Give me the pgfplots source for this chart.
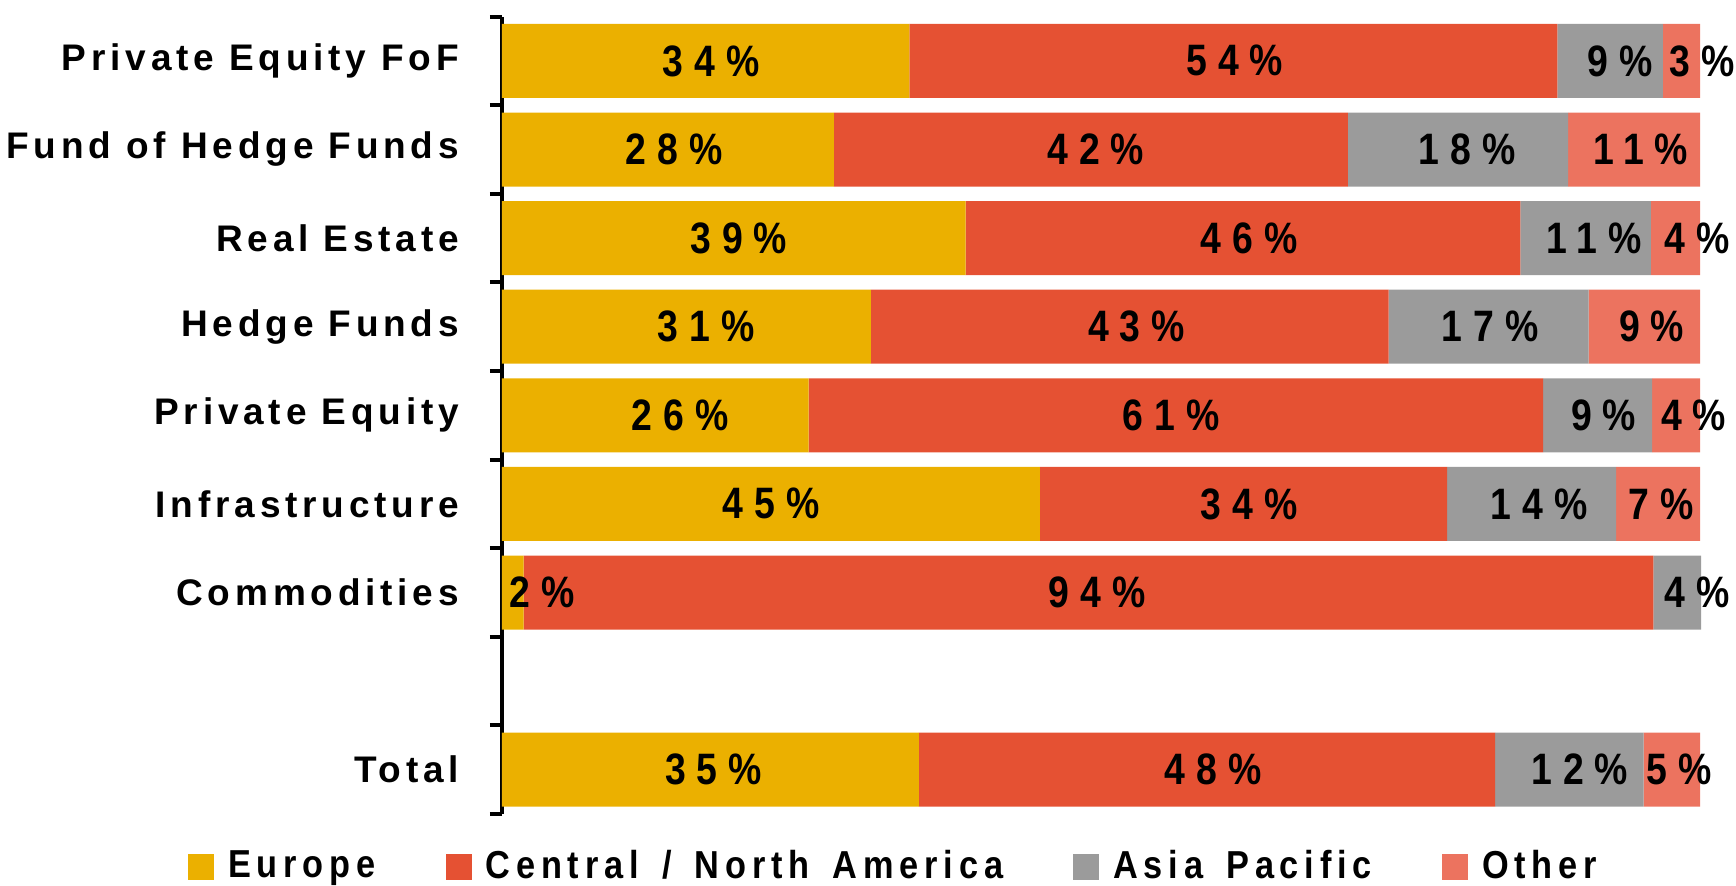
\documentclass[border=0pt]{standalone}
\usepackage{fontspec}
\usepackage{pgfplots}
\pgfplotsset{compat=1.18}
\setmainfont{Liberation Sans}
\newfontfamily\labfont{Liberation Sans}[LetterSpace=13]
\newfontfamily\legfont{Liberation Sans}[LetterSpace=15,FakeStretch=0.88,WordSpace=1.5]
\newfontfamily\pctfont{Liberation Sans}[LetterSpace=25,FakeStretch=0.85]
\definecolor{cEU}{HTML}{EBB000}
\definecolor{cNA}{HTML}{E55133}
\definecolor{cAP}{HTML}{9B9B9B}
\definecolor{cOT}{HTML}{EC735F}
\pgfplotsset{
  sqleg/.style={legend image code/.code={\fill[##1] (0pt,-7pt) rectangle (13pt,6pt);}},
  common/.style={at={(251pt,35.5pt)}, anchor=south west,
    width=599pt, height=398.7pt, scale only axis,
    xmin=0, xmax=100, ymin=-0.5, ymax=8.5}
}
\begin{document}
\begin{tikzpicture}
\useasboundingbox (0,0) rectangle (868pt,442.5pt);
\begin{axis}[common,
  xbar stacked, bar width=37pt,
  sqleg,
  axis x line=none, axis y line=left,
  axis line style={-, line width=2pt, black},
  ytick={0,2,3,4,5,6,7,8},
  yticklabels={Total,Commodities,Infrastructure,Private Equity,Hedge Funds,Real Estate,Fund of Hedge Funds,Private Equity FoF},
  major tick length=0pt,
  minor ytick={-0.5,0.5,...,8.5},
  minor tick length=6pt,
  tick align=outside,
  minor tick style={line width=2pt, black},
  yticklabel style={font=\labfont\bfseries\fontsize{18.5}{20}\selectfont, xshift=-18pt},
  legend style={font=\legfont\bfseries\fontsize{19.5}{21}\selectfont, draw=none, fill=none,
    inner sep=0pt, outer sep=0pt, legend columns=4,
    /tikz/every odd column/.append style={column sep=5pt},
    /tikz/every even column/.append style={column sep=33pt},
    at={(-0.262,-0.0652)}, anchor=west},
  clip=false,
]
\addplot[fill=cEU, draw=none, sqleg] coordinates {(34.8,0) (1.8,2) (44.9,3) (25.6,4) (30.8,5) (38.7,6) (27.7,7) (34.0,8)};
\addplot[fill=cNA, draw=none, sqleg] coordinates {(48.1,0) (94.3,2) (34.0,3) (61.3,4) (43.2,5) (46.3,6) (42.9,7) (54.1,8)};
\addplot[fill=cAP, draw=none, sqleg] coordinates {(12.4,0) (4.0,2) (14.1,3) (9.1,4) (16.7,5) (10.9,6) (18.4,7) (8.8,8)};
\addplot[fill=cOT, draw=none, sqleg] coordinates {(4.7,0) (0,2) (7.0,3) (4.0,4) (9.3,5) (4.1,6) (11.0,7) (3.1,8)};
\legend{Europe, Central / North America, Asia Pacific, Other}
\end{axis}
\begin{axis}[common, hide axis, clip=false]
\addplot[draw=none, mark=none, point meta=explicit symbolic,
  nodes near coords={\pgfplotspointmeta\%},
  every node near coord/.append style={anchor=center, inner sep=0pt, xshift=2.75pt,
    font=\pctfont\bfseries\fontsize{22}{24}\selectfont}]
  table[meta=lab] {
x y lab
17.0 8 34
60.7 8 54
92.9 8 9
99.7 8 3
13.9 7 28
49.1 7 42
80.1 7 18
94.6 7 11
19.3 6 39
61.9 6 46
90.7 6 11
99.3 6 4
16.6 5 31
52.5 5 43
82.0 5 17
95.5 5 9
14.4 4 26
55.4 4 61
91.5 4 9
99.0 4 4
22.0 3 45
61.9 3 34
86.1 3 14
96.3 3 7
2.9 2 2
49.2 2 94
99.3 2 4
17.2 0 35
58.9 0 48
89.5 0 12
97.8 0 5
};
\end{axis}
\end{tikzpicture}
\end{document}
